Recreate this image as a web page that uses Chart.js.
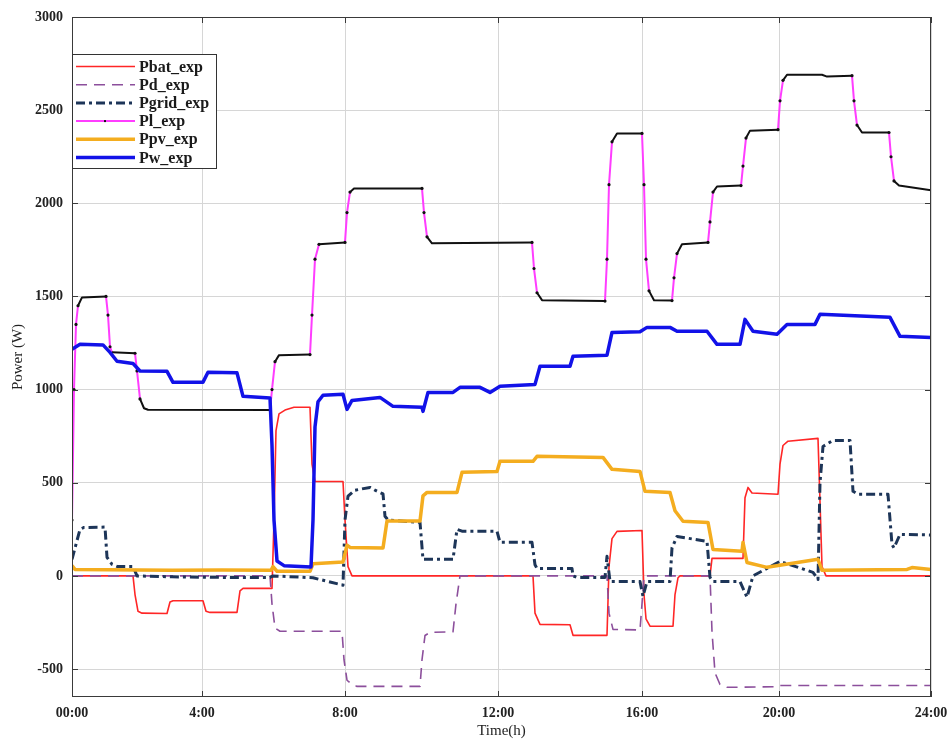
<!DOCTYPE html>
<html>
<head>
<meta charset="utf-8">
<script src="https://cdn.jsdelivr.net/npm/chart.js@4.4.0/dist/chart.umd.min.js"></script>
<style>
  html, body { margin: 0; padding: 0; background: #fff; }
  #wrap { width: 950px; height: 740px; }
</style>
</head>
<body>
<div id="wrap"><canvas id="power-chart" width="950" height="740"></canvas></div>
<script>
// x = sample position along the time axis (0..859), the hour ticks are not evenly spaced
const TICK_AT = [0, 130, 273, 426, 570, 707, 859];
const TICK_LABELS = ['00:00', '4:00', '8:00', '12:00', '16:00', '20:00', '24:00'];
const Y_TICKS = [-500, 0, 500, 1000, 1500, 2000, 2500, 3000];
const NAMES = ['Pbat_exp', 'Pd_exp', 'Pgrid_exp', 'Pl_exp', 'Ppv_exp', 'Pw_exp'];

// [x, W]
const pbat = [[0,0],[61,0],[63,-100],[66,-190],[70,-200],[95,-202],[98,-140],[101,-133],[131,-133],
  [134,-190],[138,-196],[165,-196],[168,-80],[171,-67],[200,-67],[202,300],[204,780],[207,870],[213,890],
  [222,905],[238,905],[240,600],[243,507],[271,507],[273,300],[276,50],[280,0],[461,0],[463,-200],
  [468,-260],[498,-262],[501,-319],[535,-319],[537,50],[540,200],[545,239],[570,244],[572,-100],
  [574,-230],[578,-270],[601,-270],[603,-100],[606,-10],[608,0],[638,0],[640,94],[671,94],[673,420],
  [676,475],[680,445],[706,438],[708,600],[711,700],[716,723],[746,738],[748,400],[750,50],[754,0],[859,0]];

const pd = [[0,0],[198,0],[200,-150],[203,-280],[208,-297],[270,-297],[272,-450],[275,-560],[280,-583],
  [285,-593],[348,-593],[350,-450],[353,-320],[358,-303],[381,-300],[384,-150],[388,0],[535,0],
  [537,-200],[541,-287],[568,-290],[570,-150],[572,0],[638,0],[640,-300],[643,-520],[648,-583],
  [655,-598],[705,-595],[708,-588],[859,-588]];

const pgrid = [[0,89],[8,250],[12,260],[33,262],[35,100],[40,62],[45,51],[61,51],[65,0],[100,-5],
  [150,-8],[198,-8],[201,0],[241,-10],[256,-30],[271,-50],[273,300],[276,428],[283,460],[298,475],
  [303,460],[311,440],[313,320],[316,300],[348,287],[351,89],[358,89],[381,89],[385,250],[390,240],
  [425,240],[428,180],[460,180],[463,60],[465,40],[500,40],[501,0],[505,-8],[533,-8],[535,105],
  [538,-30],[568,-30],[571,-110],[575,-30],[598,-30],[600,150],[605,212],[635,185],[638,-8],[641,-30],
  [668,-30],[675,-115],[681,0],[708,78],[741,19],[746,-19],[748,500],[751,695],[761,727],[778,727],
  [781,454],[786,438],[816,438],[820,169],[822,150],[828,223],[859,220]];

const pl = [[0,300],[2,1000],[4,1350],[6,1450],[10,1495],[34,1500],[36,1400],[38,1230],[40,1200],
  [63,1195],[65,1100],[68,950],[72,900],[76,892],[198,890],[200,1000],[203,1150],[207,1185],[238,1188],
  [240,1400],[243,1700],[247,1780],[273,1790],[275,1950],[278,2060],[282,2080],[350,2080],[352,1950],
  [355,1820],[360,1785],[460,1790],[462,1650],[465,1520],[470,1480],[533,1475],[535,1700],[537,2100],
  [540,2330],[545,2375],[570,2375],[572,2100],[574,1700],[577,1530],[582,1480],[600,1478],[602,1600],
  [605,1730],[610,1780],[636,1790],[638,1900],[641,2060],[645,2090],[669,2095],[671,2200],[674,2350],
  [678,2390],[706,2395],[708,2550],[711,2660],[715,2690],[750,2690],[755,2680],[780,2685],[782,2550],
  [785,2420],[790,2380],[817,2380],[819,2250],[822,2120],[827,2095],[859,2070]];

const ppv = [[0,55],[3,35],[100,30],[150,32],[199,30],[201,50],[205,25],[238,25],[241,65],[271,75],
  [275,165],[278,153],[311,150],[315,295],[348,295],[351,430],[355,448],[385,448],[390,556],[425,561],
  [428,615],[461,615],[465,642],[531,636],[540,572],[568,561],[573,454],[598,448],[603,350],[611,293],
  [636,287],[641,142],[670,132],[671,180],[675,72],[695,46],[746,89],[750,30],[835,35],[840,45],[859,35]];

const pw = [[0,1216],[8,1243],[31,1240],[38,1200],[45,1152],[61,1140],[68,1100],[95,1098],[101,1039],
  [131,1040],[136,1093],[165,1090],[171,964],[198,955],[200,700],[202,300],[205,80],[212,55],[239,48],
  [241,300],[243,800],[246,935],[251,970],[271,975],[275,894],[280,942],[308,958],[321,910],[350,905],
  [351,883],[356,985],[381,985],[388,1012],[408,1012],[418,985],[428,1018],[463,1028],[468,1125],
  [498,1125],[501,1179],[535,1185],[540,1307],[568,1310],[575,1334],[598,1334],[605,1313],[635,1313],
  [645,1243],[668,1243],[673,1377],[681,1313],[705,1297],[715,1350],[743,1350],[748,1404],[818,1388],
  [828,1286],[859,1280]];

const toXY = arr => arr.map(p => ({ x: p[0], y: p[1] }));
const serif = "'Liberation Serif', 'DejaVu Serif', serif";

// Pl: magenta line with black markers, flat parts look black
function plSegColor(ctx) {
  const dx = Math.abs(ctx.p1.x - ctx.p0.x), dy = Math.abs(ctx.p1.y - ctx.p0.y);
  return dy > 2.5 * dx ? '#ff3dff' : '#111';
}
function plPointRadius(ctx) {
  const d = ctx.dataset.data, i = ctx.dataIndex;
  const prev = i > 0 ? Math.abs(d[i].y - d[i - 1].y) : 0;
  const next = i < d.length - 1 ? Math.abs(d[i + 1].y - d[i].y) : 0;
  return (prev > 60 || next > 60) ? 1.6 : 0;
}

const frame = {
  id: 'frame',
  afterDraw(chart) {
    const { ctx, chartArea: a, scales } = chart;
    ctx.save();
    ctx.strokeStyle = '#3a3a3a';
    ctx.lineWidth = 1;
    ctx.strokeRect(a.left + 0.5, a.top + 0.5, a.right - a.left - 1, a.bottom - a.top - 1);
    ctx.beginPath();
    scales.x.ticks.forEach(t => {
      const px = Math.round(scales.x.getPixelForValue(t.value)) + 0.5;
      ctx.moveTo(px, a.bottom); ctx.lineTo(px, a.bottom - 6);
      ctx.moveTo(px, a.top); ctx.lineTo(px, a.top + 6);
    });
    scales.y.ticks.forEach(t => {
      const py = Math.round(scales.y.getPixelForValue(t.value)) + 0.5;
      ctx.moveTo(a.left, py); ctx.lineTo(a.left + 6, py);
      ctx.moveTo(a.right, py); ctx.lineTo(a.right - 6, py);
    });
    ctx.stroke();

    // legend box
    const lx = a.left, ly = 54, lw = 144, lh = 114;
    ctx.fillStyle = '#fff';
    ctx.fillRect(lx, ly, lw, lh);
    ctx.strokeStyle = '#333';
    ctx.strokeRect(lx + 0.5, ly + 0.5, lw, lh);
    ctx.font = 'bold 16px ' + serif;
    ctx.textBaseline = 'middle';
    chart.data.datasets.forEach((ds, i) => {
      const y = ly + 12.5 + i * 18.2;
      ctx.save();
      ctx.strokeStyle = ds.borderColor;
      ctx.lineWidth = ds.borderWidth;
      ctx.setLineDash(ds.borderDash || []);
      ctx.beginPath();
      ctx.moveTo(lx + 4, y); ctx.lineTo(lx + 63, y);
      ctx.stroke();
      ctx.restore();
      if (i === 3) {
        ctx.fillStyle = '#111';
        ctx.fillRect(lx + 32, y - 1, 2, 2);
      }
      ctx.fillStyle = '#1a1a1a';
      ctx.fillText(ds.label, lx + 67, y + 1);
    });
    ctx.restore();
  }
};

const mk = (i, data, color, width, dash, order) => ({
  label: NAMES[i], data: toXY(data), borderColor: color, backgroundColor: color,
  borderWidth: width, borderDash: dash, pointRadius: 0, tension: 0, fill: false,
  borderJoinStyle: 'round', order: order
});

const datasets = [
  mk(0, pbat, '#ff2626', 1.6, [], 6),
  mk(1, pd, '#8c4f9c', 1.6, [11, 7], 5),
  mk(2, pgrid, '#1d3558', 3, [9, 4, 3, 4], 4),
  Object.assign(mk(3, pl, '#ff3dff', 2, [], 3), {
    segment: { borderColor: plSegColor },
    pointRadius: plPointRadius, pointStyle: 'circle',
    pointBackgroundColor: '#111', pointBorderColor: '#111', pointBorderWidth: 0
  }),
  mk(4, ppv, '#f4ad1f', 3.5, [], 2),
  mk(5, pw, '#1212e8', 3.5, [], 1)
];

new Chart(document.getElementById('power-chart'), {
  type: 'line',
  data: { datasets: datasets },
  plugins: [frame],
  options: {
    responsive: false,
    animation: false,
    devicePixelRatio: 1,
    layout: { padding: { left: 0, right: 19, top: 17, bottom: 0 } },
    plugins: { legend: { display: false }, tooltip: { enabled: false } },
    scales: {
      x: {
        type: 'linear', min: 0, max: 859,
        afterBuildTicks: s => { s.ticks = TICK_AT.map(v => ({ value: v })); },
        afterFit: s => { s.height = 43; s.paddingLeft = 0; s.paddingRight = 0; },
        grid: { color: '#d6d6d6', drawTicks: false },
        border: { display: false },
        ticks: {
          padding: 8, maxRotation: 0, autoSkip: false, color: '#222',
          font: { family: serif, size: 14, weight: 'bold' },
          callback: (v, i) => TICK_LABELS[i]
        },
        title: { display: true, text: 'Time(h)', color: '#222', padding: { top: 0, bottom: 0 },
          font: { family: serif, size: 15 } }
      },
      y: {
        min: -650, max: 3000,
        afterBuildTicks: s => { s.ticks = Y_TICKS.map(v => ({ value: v })); },
        afterFit: s => { s.width = 72; s.paddingTop = 0; s.paddingBottom = 0; },
        grid: { color: '#d6d6d6', drawTicks: false },
        border: { display: false },
        ticks: { padding: 9, color: '#222', font: { family: serif, size: 14, weight: 'bold' },
          callback: v => String(v) },
        title: { display: true, text: 'Power (W)', color: '#222', padding: { top: 9, bottom: 0 },
          font: { family: serif, size: 15 } }
      }
    }
  }
});
</script>
</body>
</html>
